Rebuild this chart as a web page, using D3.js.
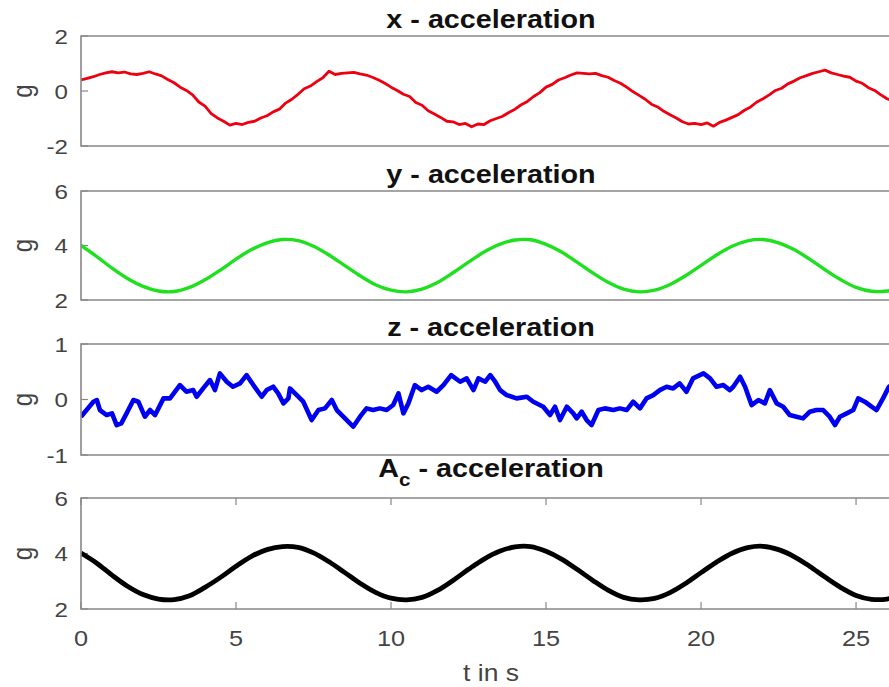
<!DOCTYPE html>
<html>
<head>
<meta charset="utf-8">
<script src="https://cdn.jsdelivr.net/npm/d3@7"></script>
<style>
  body { margin: 0; background: #fff; }
  text { font-family: "Liberation Sans", Arial, sans-serif; }
</style>
</head>
<body>
<svg width="889" height="687"></svg>
<script>
// x - acceleration, sampled every 0.2 s
var xStep = 0.2;
var xAcc = [
  0.40, 0.46, 0.52, 0.60, 0.66, 0.70, 0.66, 0.69, 0.62, 0.60,
  0.64, 0.70, 0.62, 0.55, 0.42, 0.30, 0.14, 0.02, -0.14, -0.40,
  -0.55, -0.82, -0.98, -1.10, -1.24, -1.18, -1.22, -1.14, -1.10, -0.98,
  -0.90, -0.76, -0.66, -0.44, -0.30, -0.12, 0.08, 0.18, 0.34, 0.48,
  0.72, 0.60, 0.64, 0.66, 0.68, 0.62, 0.58, 0.50, 0.40, 0.28,
  0.14, 0.02, -0.12, -0.20, -0.42, -0.52, -0.72, -0.84, -0.96, -1.10,
  -1.12, -1.22, -1.18, -1.30, -1.20, -1.22, -1.08, -1.00, -0.92, -0.78,
  -0.66, -0.50, -0.38, -0.20, -0.06, 0.14, 0.24, 0.40, 0.48, 0.58,
  0.66, 0.64, 0.62, 0.64, 0.56, 0.50, 0.38, 0.28, 0.14, -0.02,
  -0.16, -0.30, -0.48, -0.58, -0.74, -0.86, -0.98, -1.12, -1.20, -1.18,
  -1.22, -1.16, -1.28, -1.14, -1.06, -0.96, -0.86, -0.70, -0.58, -0.40,
  -0.28, -0.14, 0.02, 0.10, 0.26, 0.36, 0.48, 0.56, 0.64, 0.70,
  0.76, 0.66, 0.60, 0.54, 0.50, 0.36, 0.28, 0.12, 0.02, -0.14,
  -0.28, -0.36, -0.46
];

// y - acceleration and A_c, sampled every 0.5 s
var smoothStep = 0.5;
var yAcc = [
  4.00, 3.60, 3.17, 2.79, 2.50, 2.33, 2.31, 2.46, 2.74, 3.10,
  3.50, 3.85, 4.10, 4.22, 4.18, 3.97, 3.65, 3.27, 2.89, 2.56,
  2.36, 2.30, 2.40, 2.64, 3.00, 3.39, 3.76, 4.04, 4.20, 4.21,
  4.04, 3.76, 3.39, 3.00, 2.65, 2.40, 2.30, 2.36, 2.57, 2.89,
  3.27, 3.65, 3.97, 4.17, 4.22, 4.10, 3.85, 3.50, 3.11, 2.75,
  2.46, 2.32, 2.33, 2.49
];
var acAcc = [
  4.02, 3.66, 3.22, 2.82, 2.52, 2.36, 2.34, 2.48, 2.78, 3.14,
  3.54, 3.90, 4.14, 4.25, 4.22, 4.02, 3.70, 3.32, 2.93, 2.60,
  2.39, 2.33, 2.42, 2.67, 3.03, 3.43, 3.80, 4.08, 4.24, 4.25,
  4.08, 3.80, 3.43, 3.04, 2.68, 2.42, 2.33, 2.38, 2.59, 2.92,
  3.31, 3.69, 4.01, 4.21, 4.26, 4.14, 3.89, 3.54, 3.15, 2.78,
  2.49, 2.35, 2.36, 2.52
];

// z - acceleration, read point by point
var zTime = [
  0, 0.18, 0.4, 0.51, 0.61, 0.83, 1.0, 1.15, 1.3, 1.47, 1.69, 1.85, 2.06, 2.23, 2.39, 2.66, 2.87,
  3.19, 3.4, 3.62, 3.73, 3.94, 4.16, 4.32, 4.48, 4.7, 4.9, 5.13, 5.34, 5.56, 5.83, 5.99, 6.2,
  6.36, 6.53, 6.69, 6.74, 6.96, 7.17, 7.44, 7.66, 7.87, 8.09, 8.25, 8.46, 8.78, 9.0, 9.21, 9.42,
  9.64, 9.86, 10.07, 10.24, 10.4, 10.56, 10.77, 10.99, 11.2, 11.47, 11.69, 11.94, 12.23, 12.44,
  12.66, 12.82, 13.04, 13.2, 13.36, 13.52, 13.73, 14.05, 14.38, 14.59, 14.91, 15.13, 15.29, 15.45,
  15.67, 15.88, 15.99, 16.15, 16.31, 16.47, 16.69, 16.9, 17.17, 17.38, 17.6, 17.81, 18.03, 18.24,
  18.46, 18.67, 18.89, 19.1, 19.31, 19.53, 19.74, 20.08, 20.29, 20.5, 20.72, 20.93, 21.04, 21.26,
  21.42, 21.63, 21.85, 22.06, 22.22, 22.44, 22.65, 22.86, 23.08, 23.29, 23.51, 23.72, 23.94, 24.15,
  24.32, 24.48, 24.7, 24.91, 25.07, 25.28, 25.5, 25.66, 25.87, 26.06, 26.3
];
var zAcc = [
  -0.31, -0.19, -0.04, -0.01, -0.19, -0.28, -0.25, -0.46, -0.43, -0.25, -0.01, -0.04, -0.31, -0.19, -0.28, 0.02, 0.02,
  0.26, 0.14, 0.17, 0.05, 0.20, 0.35, 0.17, 0.47, 0.32, 0.23, 0.29, 0.44, 0.26, 0.05, 0.17, 0.23,
  0.11, -0.07, 0.02, 0.20, 0.08, -0.04, -0.37, -0.19, -0.16, -0.01, -0.19, -0.31, -0.49, -0.31, -0.16, -0.19,
  -0.16, -0.19, -0.10, 0.11, -0.25, -0.07, 0.26, 0.17, 0.23, 0.14, 0.26, 0.44, 0.32, 0.38,
  0.17, 0.38, 0.32, 0.44, 0.32, 0.17, 0.08, 0.02, 0.05, -0.04, -0.13, -0.28, -0.13, -0.37,
  -0.13, -0.25, -0.34, -0.22, -0.37, -0.46, -0.19, -0.16, -0.19, -0.16, -0.19, -0.04, -0.16, 0.02,
  0.08, 0.17, 0.23, 0.20, 0.29, 0.14, 0.38, 0.47, 0.38, 0.23, 0.26, 0.17, 0.23, 0.41,
  0.23, -0.10, -0.01, -0.07, 0.17, -0.07, -0.13, -0.28, -0.31, -0.34, -0.22, -0.19, -0.19, -0.31,
  -0.46, -0.31, -0.25, -0.19, 0.02, -0.04, -0.13, -0.19, 0.02, 0.23, 0.30
];

var xTicks = [0, 5, 10, 15, 20, 25];

var panels = [
  { title: "x - acceleration", top: 36, bottom: 146, domain: [-2, 2], ticks: [-2, 0, 2],
    color: "#ee0010", width: 2.8,
    data: xAcc.map((v, i) => [i * xStep, v]), curve: d3.curveLinear },
  { title: "y - acceleration", top: 191, bottom: 300, domain: [2, 6], ticks: [2, 4, 6],
    color: "#1ee01e", width: 3.4,
    data: yAcc.map((v, i) => [i * smoothStep, v]), curve: d3.curveCatmullRom },
  { title: "z - acceleration", top: 344, bottom: 455, domain: [-1, 1], ticks: [-1, 0, 1],
    color: "#0000f0", width: 4.6,
    data: zTime.map((t, i) => [t, zAcc[i]]), curve: d3.curveLinear },
  { title: "Ac", top: 498, bottom: 609, domain: [2, 6], ticks: [2, 4, 6],
    color: "#000", width: 4.8,
    data: acAcc.map((v, i) => [i * smoothStep, v]), curve: d3.curveCatmullRom, xAxis: true }
];

var svg = d3.select("svg");
var left = 81, right = 901;
var x = d3.scaleLinear().domain([0, 26.45]).range([left, right]);
var stretch = 1.15;  // the picture is slightly wider than tall

function stretchedText(g, px, py) {
  return g.append("text").attr("transform", "translate(" + px + "," + py + ") scale(" + stretch + ",1)");
}

panels.forEach(function(p, k) {
  var y = d3.scaleLinear().domain(p.domain).range([p.bottom, p.top]);
  var g = svg.append("g");

  g.append("clipPath").attr("id", "clip" + k)
    .append("rect").attr("x", left).attr("y", p.top).attr("width", right - left).attr("height", p.bottom - p.top);

  // inward tick marks
  p.ticks.forEach(function(v) {
    g.append("line").attr("x1", left).attr("x2", left + 7).attr("y1", y(v)).attr("y2", y(v))
      .attr("stroke", "#888").attr("stroke-width", 1.2);
  });
  if (p.xAxis) {
    xTicks.forEach(function(v) {
      g.append("line").attr("x1", x(v)).attr("x2", x(v)).attr("y1", p.bottom).attr("y2", p.bottom - 7)
        .attr("stroke", "#888").attr("stroke-width", 1.2);
      g.append("line").attr("x1", x(v)).attr("x2", x(v)).attr("y1", p.top).attr("y2", p.top + 7)
        .attr("stroke", "#888").attr("stroke-width", 1.2);
    });
  }

  var line = d3.line().x(d => x(d[0])).y(d => y(d[1])).curve(p.curve);
  g.append("path").datum(p.data)
    .attr("clip-path", "url(#clip" + k + ")")
    .attr("d", line)
    .attr("fill", "none")
    .attr("stroke", p.color)
    .attr("stroke-width", p.width)
    .attr("stroke-linejoin", "round");

  // box (right side falls outside the picture)
  g.append("path")
    .attr("d", "M" + right + "," + p.top + "H" + left + "V" + p.bottom + "H" + right)
    .attr("fill", "none").attr("stroke", "#888").attr("stroke-width", 1.6);

  // y tick labels
  p.ticks.forEach(function(v) {
    stretchedText(g, 68, y(v) + 7.5)
      .attr("text-anchor", "end").attr("font-size", 21).attr("fill", "#444")
      .text(v < 0 ? "-" + Math.abs(v) : v);
  });

  // y label
  g.append("text")
    .attr("transform", "translate(32," + ((p.top + p.bottom) / 2) + ") rotate(-90) scale(1,1.15)")
    .attr("text-anchor", "middle").attr("font-size", 24).attr("fill", "#444").text("g");

  // title
  var cx = (left + right) / 2;
  if (p.title === "Ac") {
    var t = stretchedText(g, cx, p.top - 21)
      .attr("text-anchor", "middle").attr("font-size", 25).attr("font-weight", "bold").attr("fill", "#111");
    t.append("tspan").text("A");
    t.append("tspan").attr("dy", 9).attr("font-size", 18).text("c");
    t.append("tspan").attr("dy", -9).text(" - acceleration");
  } else {
    stretchedText(g, cx, p.top - 8)
      .attr("text-anchor", "middle").attr("font-size", 25).attr("font-weight", "bold").attr("fill", "#111")
      .text(p.title);
  }

  if (p.xAxis) {
    xTicks.forEach(function(v) {
      stretchedText(g, x(v), p.bottom + 37)
        .attr("text-anchor", "middle").attr("font-size", 22).attr("fill", "#444").text(v);
    });
    stretchedText(g, cx, p.bottom + 72)
      .attr("text-anchor", "middle").attr("font-size", 23).attr("fill", "#444").text("t in s");
  }
});
</script>
</body>
</html>
